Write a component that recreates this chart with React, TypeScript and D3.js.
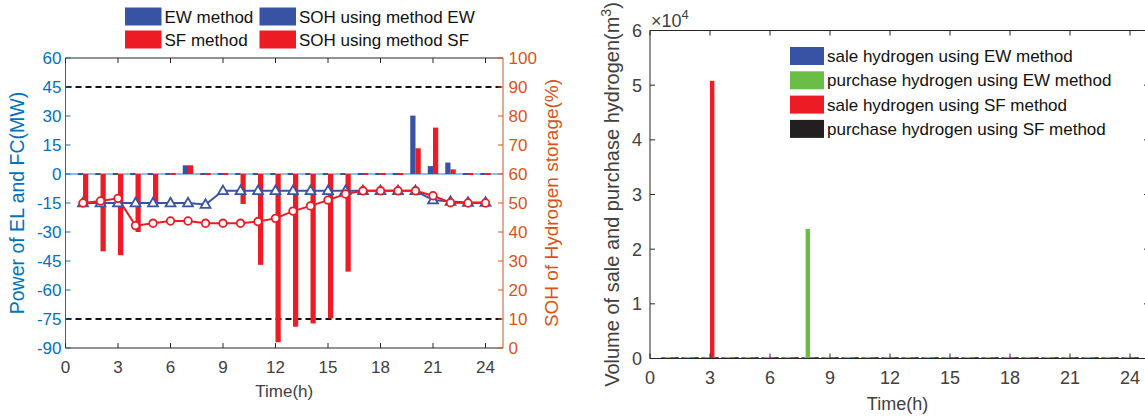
import React from 'react';
import * as d3 from 'd3';

// Hourly schedule, hours 1..24
const hours = [1, 2, 3, 4, 5, 6, 7, 8, 9, 10, 11, 12, 13, 14, 15, 16, 17, 18, 19, 20, 21, 22, 23, 24];

// Electrolyser / fuel-cell power (MW)
const ewPower = [0, 0, 0, 0, 0, 0, 4.5, 0, 0, 0, 0, 0, 0, 0, 0, 0, 0, 0, 0, 30.2, 4.1, 5.9, 0, 0];
const sfPower = [-16, -40, -42, -30, -16, 0, 4.5, 0, 0, -15.5, -47, -87, -79, -77.3, -74.7, -50.5, 0, 0, 0, 13.3, 24, 2.4, 0, 0];

// State of hydrogen storage (%)
const sohEW = [50, 50, 50, 50, 50, 50, 50, 49.5, 54.2, 54.2, 54.2, 54.2, 54.2, 54.2, 54.2, 54.2, 54.2, 54.2, 54.2, 54.2, 51, 50.5, 50.2, 50.2];
const sohSF = [50, 50.7, 51.6, 42.2, 43, 43.8, 43.8, 43, 43, 43, 43.6, 44.7, 47.2, 49, 51, 53.1, 54.2, 54.2, 54.2, 54.2, 52.5, 50.1, 50, 50];

// Hydrogen trade volumes (m^3)
const saleEW = [0, 0, 0, 0, 0, 0, 0, 0, 0, 0, 0, 0, 0, 0, 0, 0, 0, 0, 0, 0, 0, 0, 0, 0];
const purchaseEW = [0, 0, 0, 0, 0, 0, 0, 23700, 0, 0, 0, 0, 0, 0, 0, 0, 0, 0, 0, 0, 0, 0, 0, 0];
const saleSF = [0, 0, 50800, 0, 0, 0, 0, 0, 0, 0, 0, 0, 0, 0, 0, 0, 0, 0, 0, 0, 0, 0, 0, 0];
const purchaseSF = [0, 0, 0, 0, 0, 0, 0, 0, 0, 0, 0, 0, 0, 0, 0, 0, 0, 0, 0, 0, 0, 0, 0, 0];

// Tick values
const timeTicks = [0, 3, 6, 9, 12, 15, 18, 21, 24];
const powerTicks = [-90, -75, -60, -45, -30, -15, 0, 15, 30, 45, 60];
const sohTicks = [0, 10, 20, 30, 40, 50, 60, 70, 80, 90, 100];
const volumeTicks = [0, 1, 2, 3, 4, 5, 6];
const powerLimits = [45, -75];

const FONT = '"Liberation Sans", Arial, Helvetica, sans-serif';
const BLUE = '#3953A4';
const RED = '#ED1C24';
const GREEN = '#6ABD45';
const BLACK = '#231F20';
const AX_BLUE = '#0072BD';
const AX_ORANGE = '#D95319';
const AX = '#262626';
const TXT = '#404040';

function PowerPanel() {
  const x = d3.scaleLinear().domain([0, 25]).range([65.5, 503]);
  const yP = d3.scaleLinear().domain([-90, 60]).range([348, 58]);
  const yS = d3.scaleLinear().domain([0, 100]).range([348, 58]);
  const [x0, x1] = x.range();
  const [yb, yt] = [yP.range()[0], yP.range()[1]];
  const bw = 0.3;
  const series = [
    { values: ewPower, color: BLUE, off: -bw },
    { values: sfPower, color: RED, off: 0 },
  ];
  const line = d3.line<number>().x((_, i) => x(hours[i])).y((v) => yS(v));
  const tri = d3.symbol(d3.symbolTriangle, 42)() as string;
  const legend = [
    { label: 'EW method', color: BLUE, col: 0, row: 0 },
    { label: 'SF method', color: RED, col: 0, row: 1 },
    { label: 'SOH using method EW', color: BLUE, col: 1, row: 0 },
    { label: 'SOH using method SF', color: RED, col: 1, row: 1 },
  ];
  const legX = [125, 259.5];
  const legY = [7.5, 30.5];
  return (
    <g>
      {/* limit lines */}
      {powerLimits.map((v) => (
        <line key={v} x1={x0} x2={x1} y1={yP(v)} y2={yP(v)} stroke="#111" strokeWidth={2} strokeDasharray="6 4" />
      ))}
      {/* bar baseline */}
      <line x1={x0} x2={x1} y1={yP(0)} y2={yP(0)} stroke="#1f80d0" strokeWidth={1.2} />
      {/* grouped bars */}
      {series.map((s, si) =>
        hours.map((h, i) => {
          const v = s.values[i];
          const bx0 = x(h + s.off);
          const bx1 = x(h + s.off + bw);
          if (v === 0) {
            return <line key={`${si}-${h}`} x1={bx0} x2={bx1} y1={yP(0)} y2={yP(0)} stroke={s.color} strokeWidth={2} />;
          }
          const top = yP(Math.max(0, v));
          const bot = yP(Math.min(0, v));
          return <rect key={`${si}-${h}`} x={bx0} y={top} width={bx1 - bx0} height={bot - top} fill={s.color} />;
        })
      )}
      {/* SOH curves */}
      <path d={line(sohEW) as string} fill="none" stroke={BLUE} strokeWidth={2} />
      <path d={line(sohSF) as string} fill="none" stroke={RED} strokeWidth={2} />
      {sohEW.map((v, i) => (
        <path key={`t${i}`} d={tri} transform={`translate(${x(hours[i])},${yS(v) + 0.5})`} fill="#fff" stroke={BLUE} strokeWidth={1.8} />
      ))}
      {sohSF.map((v, i) => (
        <circle key={`c${i}`} cx={x(hours[i])} cy={yS(v)} r={3.8} fill="#fff" stroke={RED} strokeWidth={1.8} />
      ))}
      {/* axes frame */}
      <line x1={x0} x2={x1} y1={yb} y2={yb} stroke={AX} strokeWidth={1} />
      <line x1={x0} x2={x1} y1={yt} y2={yt} stroke={AX} strokeWidth={1} />
      <line x1={x0} x2={x0} y1={yt} y2={yb} stroke={AX_BLUE} strokeWidth={1} />
      <line x1={x1} x2={x1} y1={yt} y2={yb} stroke={AX_ORANGE} strokeWidth={1} />
      {timeTicks.map((t) => (
        <g key={t}>
          <line x1={x(t)} x2={x(t)} y1={yb} y2={yb - 5} stroke={AX} />
          <line x1={x(t)} x2={x(t)} y1={yt} y2={yt + 5} stroke={AX} />
          <text x={x(t)} y={372.5} textAnchor="middle" fontSize={17} fill={TXT}>{t}</text>
        </g>
      ))}
      {powerTicks.map((t) => (
        <g key={t}>
          <line x1={x0} x2={x0 + 5} y1={yP(t)} y2={yP(t)} stroke={AX_BLUE} />
          <text x={61.5} y={yP(t)} dy="0.36em" textAnchor="end" fontSize={17} fill={AX_BLUE}>{t}</text>
        </g>
      ))}
      {sohTicks.map((t) => (
        <g key={t}>
          <line x1={x1} x2={x1 - 5} y1={yS(t)} y2={yS(t)} stroke={AX_ORANGE} />
          <text x={508.5} y={yS(t)} dy="0.36em" textAnchor="start" fontSize={17} fill={AX_ORANGE}>{t}</text>
        </g>
      ))}
      <text x={(x0 + x1) / 2} y={397} textAnchor="middle" fontSize={17} fill={TXT}>Time(h)</text>
      <text transform={`translate(23.5,${(yt + yb) / 2}) rotate(-90)`} textAnchor="middle" fontSize={19.5} fill={AX_BLUE}>Power of EL and FC(MW)</text>
      <text transform={`translate(558,${(yt + yb) / 2}) rotate(-90)`} textAnchor="middle" fontSize={19} fill={AX_ORANGE}>SOH of Hydrogen storage(%)</text>
      {/* legend */}
      {legend.map((l) => (
        <g key={l.label}>
          <rect x={legX[l.col]} y={legY[l.row]} width={36.5} height={18} fill={l.color} />
          <text x={legX[l.col] + 39.5} y={legY[l.row] + 9} dy="0.36em" fontSize={17} fill="#111">{l.label}</text>
        </g>
      ))}
    </g>
  );
}

function VolumePanel() {
  const x = d3.scaleLinear().domain([0, 25]).range([650, 1150]);
  const y = d3.scaleLinear().domain([0, 60000]).range([358.5, 30.5]);
  const [x0, x1] = x.range();
  const [yb, yt] = y.range();
  const bw = 0.22;
  const series = [
    { values: saleEW, color: BLUE, label: 'sale hydrogen using EW method' },
    { values: purchaseEW, color: GREEN, label: 'purchase hydrogen using EW method' },
    { values: saleSF, color: RED, label: 'sale hydrogen using SF method' },
    { values: purchaseSF, color: BLACK, label: 'purchase hydrogen using SF method' },
  ];
  return (
    <g>
      {series.map((s, si) =>
        hours.map((h, i) => {
          const v = s.values[i];
          const bx0 = x(h + (si - 2) * bw);
          const bx1 = x(h + (si - 1) * bw);
          if (v === 0) {
            return <line key={`${si}-${h}`} x1={bx0} x2={bx1} y1={y(0) - 0.5} y2={y(0) - 0.5} stroke={s.color} strokeWidth={1.6} />;
          }
          return <rect key={`${si}-${h}`} x={bx0} y={y(v)} width={bx1 - bx0} height={y(0) - y(v)} fill={s.color} />;
        })
      )}
      <line x1={x0} x2={x1} y1={yb} y2={yb} stroke={AX} strokeWidth={1} />
      <line x1={x0} x2={x1} y1={yt} y2={yt} stroke={AX} strokeWidth={1} />
      <line x1={x0} x2={x0} y1={yt} y2={yb} stroke={AX} strokeWidth={1} />
      <line x1={x1} x2={x1} y1={yt} y2={yb} stroke={AX} strokeWidth={1} />
      {timeTicks.map((t) => (
        <g key={t}>
          <line x1={x(t)} x2={x(t)} y1={yb} y2={yb - 5} stroke={AX} />
          <line x1={x(t)} x2={x(t)} y1={yt} y2={yt + 5} stroke={AX} />
          <text x={x(t)} y={384} textAnchor="middle" fontSize={18} fill={TXT}>{t}</text>
        </g>
      ))}
      {volumeTicks.map((t) => (
        <g key={t}>
          <line x1={x0} x2={x0 + 5} y1={y(t * 10000)} y2={y(t * 10000)} stroke={AX} />
          <line x1={x1} x2={x1 - 6} y1={y(t * 10000)} y2={y(t * 10000)} stroke={AX} />
          <text x={642} y={y(t * 10000)} dy="0.36em" textAnchor="end" fontSize={18} fill={TXT}>{t}</text>
        </g>
      ))}
      <text x={651} y={27} fontSize={18} fill={TXT}>
        ×10<tspan dy={-8} fontSize={13}>4</tspan>
      </text>
      <text x={(x0 + 1145) / 2} y={410} textAnchor="middle" fontSize={18} fill={TXT}>Time(h)</text>
      <text transform={`translate(619,${(yt + yb) / 2}) rotate(-90)`} textAnchor="middle" fontSize={20} fill={TXT}>
        Volume of sale and purchase hydrogen(m<tspan dy={-8} fontSize={14}>3</tspan><tspan dy={8}>)</tspan>
      </text>
      {series.map((s, i) => (
        <g key={s.label}>
          <rect x={790} y={47 + i * 24.3} width={34} height={18} fill={s.color} />
          <text x={827} y={56 + i * 24.3} dy="0.36em" fontSize={17} fill="#111">{s.label}</text>
        </g>
      ))}
    </g>
  );
}

export default function App() {
  return (
    <svg width={1145} height={420} style={{ position: 'absolute', left: 0, top: 0, background: '#fff' }} fontFamily={FONT}>
      <rect width={1145} height={420} fill="#fff" />
      <PowerPanel />
      <VolumePanel />
    </svg>
  );
}
